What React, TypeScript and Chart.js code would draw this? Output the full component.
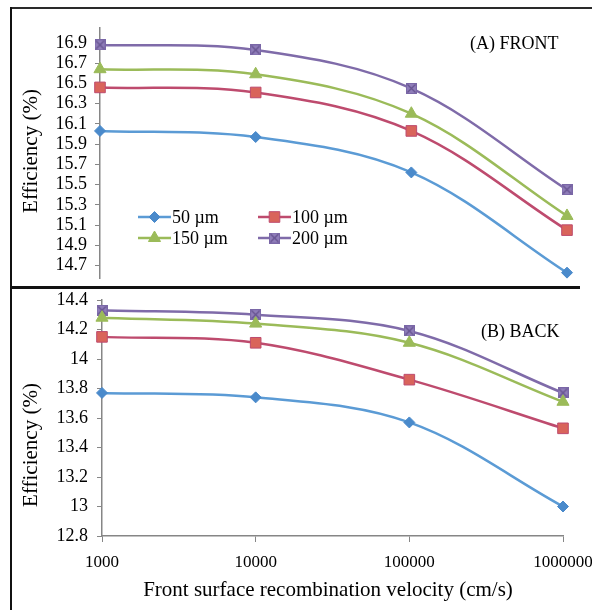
import React, { useEffect, useRef } from 'react';
import { Chart, registerables } from 'chart.js';
import { drawPoint } from 'chart.js/helpers';

Chart.register(...registerables);

// ---------- data ----------
const velocities = [1000, 10000, 100000, 1000000];
const xTickLabels = ['1000', '10000', '100000', '1000000'];
const thicknessLabels = ['50 µm', '100 µm', '150 µm', '200 µm'];

const front50 = [16.03, 15.97, 15.62, 14.63];
const front100 = [16.46, 16.41, 16.03, 15.05];
const front150 = [16.64, 16.59, 16.2, 15.19];
const front200 = [16.88, 16.83, 16.45, 15.45];

const back50 = [13.77, 13.74, 13.57, 13.0];
const back100 = [14.15, 14.11, 13.86, 13.53];
const back150 = [14.28, 14.24, 14.11, 13.71];
const back200 = [14.33, 14.3, 14.19, 13.77];

const frontTicks = [14.7, 14.9, 15.1, 15.3, 15.5, 15.7, 15.9, 16.1, 16.3, 16.5, 16.7, 16.9];
const backTicks = [12.8, 13, 13.2, 13.4, 13.6, 13.8, 14, 14.2, 14.4];

const yTitle = 'Efficiency (%)';
const xTitle = 'Front surface recombination velocity (cm/s)';
const frontLabel = '(A) FRONT';
const backLabel = '(B) BACK';

// ---------- styles ----------
const FONT = "'Liberation Serif', 'Times New Roman', serif";
const AXIS = '#868686';

function makeCrossSquare(size: number) {
  const c = document.createElement('canvas');
  c.width = size;
  c.height = size;
  const ctx = c.getContext('2d')!;
  ctx.fillStyle = '#8F7DB9';
  ctx.fillRect(0, 0, size, size);
  ctx.strokeStyle = '#7A67A7';
  ctx.lineWidth = 1;
  ctx.strokeRect(0.5, 0.5, size - 1, size - 1);
  ctx.strokeStyle = '#65528F';
  ctx.lineWidth = 1.2;
  ctx.beginPath();
  ctx.moveTo(1.5, 1.5);
  ctx.lineTo(size - 1.5, size - 1.5);
  ctx.moveTo(size - 1.5, 1.5);
  ctx.lineTo(1.5, size - 1.5);
  ctx.stroke();
  return c;
}

function seriesStyles(crossImg: HTMLCanvasElement) {
  return [
    { line: '#5B9BD5', fill: '#4A8ACB', border: '#4A8ACB', point: 'rectRot' as any, radius: 5.5 },
    { line: '#BE4B6E', fill: '#D9645B', border: '#BE4B6E', point: 'rect' as any, radius: 7.5 },
    { line: '#9BBB59', fill: '#9BBB59', border: '#9BBB59', point: 'triangle' as any, radius: 7 },
    { line: '#7F6BA9', fill: '#8F7DB9', border: '#7F6BA9', point: crossImg as any, radius: 6 },
  ];
}

function makeDatasets(values: number[][], crossImg: HTMLCanvasElement) {
  const st = seriesStyles(crossImg);
  return values.map((vals, i) => ({
    label: thicknessLabels[i],
    data: vals.map((v, j) => ({ x: velocities[j], y: v })),
    borderColor: st[i].line,
    borderWidth: 2.5,
    backgroundColor: st[i].fill,
    pointBackgroundColor: st[i].fill,
    pointBorderColor: st[i].border,
    pointBorderWidth: 1,
    pointStyle: st[i].point,
    pointRadius: st[i].radius,
    tension: 0.35,
    clip: false as any,
  }));
}

type TextItem = { text: string; x: number; y: number; size: number; rotate?: boolean; align?: CanvasTextAlign };

function overlayPlugin(texts: TextItem[], legend: null | { crossImg: HTMLCanvasElement; rows: { x: number; y: number }[] }) {
  return {
    id: 'overlayTexts',
    afterDraw(chart: any) {
      const ctx: CanvasRenderingContext2D = chart.ctx;
      ctx.save();
      ctx.fillStyle = '#000';
      ctx.textBaseline = 'middle';
      texts.forEach((t) => {
        ctx.save();
        ctx.font = `${t.size}px ${FONT}`;
        ctx.textAlign = t.align || 'center';
        ctx.translate(t.x, t.y);
        if (t.rotate) ctx.rotate(-Math.PI / 2);
        ctx.fillText(t.text, 0, 0);
        ctx.restore();
      });
      if (legend) {
        const st = seriesStyles(legend.crossImg);
        legend.rows.forEach((pos, i) => {
          const s = st[i];
          ctx.save();
          ctx.strokeStyle = s.line;
          ctx.lineWidth = 2.5;
          ctx.beginPath();
          ctx.moveTo(pos.x, pos.y);
          ctx.lineTo(pos.x + 33, pos.y);
          ctx.stroke();
          ctx.fillStyle = s.fill;
          ctx.strokeStyle = s.border;
          ctx.lineWidth = 1;
          drawPoint(ctx, { pointStyle: s.point, radius: s.radius, rotation: 0, borderWidth: 1 } as any, pos.x + 16.5, pos.y);
          ctx.restore();
          ctx.save();
          ctx.fillStyle = '#000';
          ctx.font = `18px ${FONT}`;
          ctx.textAlign = 'left';
          ctx.textBaseline = 'middle';
          ctx.fillText(thicknessLabels[i], pos.x + 34, pos.y + 1);
          ctx.restore();
        });
      }
      ctx.restore();
    },
  };
}

export default function App() {
  const topRef = useRef<HTMLCanvasElement>(null);
  const botRef = useRef<HTMLCanvasElement>(null);

  useEffect(() => {
    Chart.defaults.font.family = FONT;
    Chart.defaults.color = '#000';
    const crossImg = makeCrossSquare(11);

    const yTickCfg = (size: number, pad: number) => ({
      color: '#000',
      font: { size, family: FONT },
      padding: pad,
      autoSkip: false,
      callback: (v: any) => String(v),
    });

    const top = new Chart(topRef.current!, {
      type: 'line',
      data: { datasets: makeDatasets([front50, front100, front150, front200], crossImg) as any },
      options: {
        responsive: false,
        animation: false,
        layout: { padding: { left: 0, right: 25, top: 28, bottom: 7 } },
        plugins: { legend: { display: false }, tooltip: { enabled: false } },
        scales: {
          x: {
            type: 'logarithmic',
            min: 1000,
            max: 1000000,
            display: false,
          },
          y: {
            type: 'linear',
            min: 14.572,
            max: 17.047,
            afterBuildTicks: (s: any) => {
              s.ticks = frontTicks.map((v) => ({ value: v }));
            },
            afterFit: (s: any) => {
              s.width = 100;
              s.paddingTop = 0;
              s.paddingBottom = 0;
            },
            grid: { drawOnChartArea: false, drawTicks: true, tickLength: 5, color: AXIS, lineWidth: 1 },
            border: { display: true, color: AXIS, width: 1.5 },
            ticks: yTickCfg(18, 8) as any,
          },
        },
      } as any,
      plugins: [
        overlayPlugin(
          [
            { text: yTitle, x: 31, y: 151, size: 21, rotate: true },
            { text: frontLabel, x: 470, y: 44, size: 18, align: 'left' },
          ],
          {
            crossImg,
            rows: [
              { x: 138, y: 217 },
              { x: 258, y: 217 },
              { x: 138, y: 238 },
              { x: 258, y: 238 },
            ],
          }
        ) as any,
      ],
    });

    const bot = new Chart(botRef.current!, {
      type: 'line',
      data: { datasets: makeDatasets([back50, back100, back150, back200], crossImg) as any },
      options: {
        responsive: false,
        animation: false,
        layout: { padding: { left: 0, right: 29, top: 12, bottom: 0 } },
        plugins: { legend: { display: false }, tooltip: { enabled: false } },
        scales: {
          x: {
            type: 'logarithmic',
            min: 1000,
            max: 1000000,
            afterBuildTicks: (s: any) => {
              s.ticks = velocities.map((v) => ({ value: v }));
            },
            afterFit: (s: any) => {
              s.height = 74;
              s.paddingLeft = 0;
              s.paddingRight = 0;
            },
            grid: { drawOnChartArea: false, drawTicks: true, tickLength: 6, color: AXIS, lineWidth: 1 },
            border: { display: true, color: AXIS, width: 1.5 },
            ticks: {
              color: '#000',
              font: { size: 17, family: FONT },
              padding: 10,
              maxRotation: 0,
              autoSkip: false,
              callback: (v: any) => {
                const idx = velocities.indexOf(Number(v));
                return idx >= 0 ? xTickLabels[idx] : '';
              },
            },
          },
          y: {
            type: 'linear',
            min: 12.8,
            max: 14.4,
            afterBuildTicks: (s: any) => {
              s.ticks = backTicks.map((v) => ({ value: v }));
            },
            afterFit: (s: any) => {
              s.width = 102;
              s.paddingTop = 0;
              s.paddingBottom = 0;
            },
            grid: { drawOnChartArea: false, drawTicks: true, tickLength: 5, color: AXIS, lineWidth: 1 },
            border: { display: true, color: AXIS, width: 1.5 },
            ticks: yTickCfg(18, 9) as any,
          },
        },
      } as any,
      plugins: [
        overlayPlugin(
          [
            { text: yTitle, x: 31, y: 157, size: 21, rotate: true },
            { text: backLabel, x: 481, y: 44, size: 18, align: 'left' },
            { text: xTitle, x: 328, y: 302, size: 21 },
          ],
          null
        ) as any,
      ],
    });

    return () => {
      top.destroy();
      bot.destroy();
    };
  }, []);

  const line = (l: number, t: number, w: number, h: number, c: string) => (
    <div style={{ position: 'absolute', left: l, top: t, width: w, height: h, background: c, pointerEvents: 'none' }} />
  );

  return (
    <div style={{ position: 'fixed', left: 0, top: 0, width: 592, height: 610, background: '#fff', overflow: 'hidden' }}>
      <canvas ref={topRef} width={592} height={287} style={{ position: 'absolute', left: 0, top: 0, width: 592, height: 287 }} />
      <canvas ref={botRef} width={592} height={322} style={{ position: 'absolute', left: 0, top: 288, width: 592, height: 322 }} />
      {line(10, 7, 582, 2, '#2a2a2a')}
      {line(10, 7, 2, 281, '#111')}
      {line(10, 286, 570, 3, '#111')}
      {line(10, 287, 2, 323, '#111')}
    </div>
  );
}
